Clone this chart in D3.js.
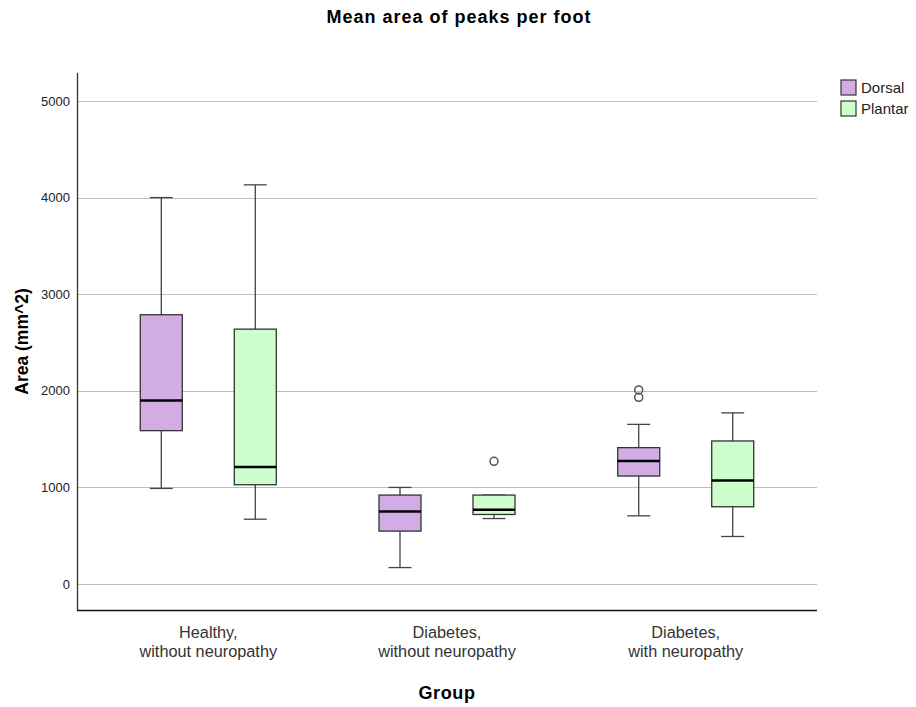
<html lang="en">
  <head>
    <meta charset="utf-8">
    <title>Mean area of peaks per foot</title>
    <script src="https://d3js.org/d3.v7.min.js"></script>
    <style>
      body { margin: 0; background: #fff; }
      text { font-family: "Liberation Sans", Arial, sans-serif; }
    </style>
  </head>
  <body>
    <script type="text/javascript">
      var w = 916;
      var h = 707;
      var margin = {top: 73, right: 99, bottom: 97, left: 77};
      var innerWidth = w - margin.left - margin.right;
      var innerHeight = h - margin.top - margin.bottom;

      // data
      var groups = ["Healthy,\nwithout neuropathy", "Diabetes,\nwithout neuropathy", "Diabetes,\nwith neuropathy"];
      var series = ["Dorsal", "Plantar"];
      var colors = ["#d2ace4", "#ccffcc"];
      var yTicks = [0, 1000, 2000, 3000, 4000, 5000];
      // [whiskerLow, q1, median, q3, whiskerHigh]
      var dorsal = [[989, 1587, 1898, 2787, 4000],
                    [169, 547, 750, 920, 999],
                    [705, 1117, 1273, 1411, 1652]];
      var plantar = [[670, 1027, 1210, 2638, 4132],
                     [677, 719, 768, 920, 920],
                     [491, 799, 1072, 1480, 1771]];
      var dorsalOutliers = [[], [], [2009, 1932]];
      var plantarOutliers = [[], [1269], []];

      var boxes = [];
      groups.forEach(function(g, i) {
        boxes.push({group: g, s: 0, v: dorsal[i], out: dorsalOutliers[i]});
        boxes.push({group: g, s: 1, v: plantar[i], out: plantarOutliers[i]});
      });

      var xScale = d3.scalePoint()
          .domain(groups)
          .range([0, innerWidth])
          .padding(0.55);
      var sub = d3.scalePoint().domain([0, 1]).range([-47, 47]);
      var yScale = d3.scaleLinear()
          .domain([-270, 5290])
          .range([innerHeight, 0]);

      var boxW = 42;
      var capW = 23;

      var svg = d3.select("body")
          .append("svg")
          .attr("width", w)
          .attr("height", h);

      svg.append("text")
          .attr("x", 459)
          .attr("y", 23)
          .attr("text-anchor", "middle")
          .style("font-size", "18px")
          .style("letter-spacing", "1px")
          .style("font-weight", "bold")
          .text("Mean area of peaks per foot");

      var g = svg.append("g")
          .attr("transform", "translate(" + margin.left + "," + margin.top + ")");

      // grid
      g.selectAll(".grid")
          .data(yTicks)
          .enter()
          .append("line")
          .attr("x1", 0)
          .attr("x2", innerWidth)
          .attr("y1", d => Math.round(yScale(d)) + 0.5)
          .attr("y2", d => Math.round(yScale(d)) + 0.5)
          .style("stroke", "#bdbdbd")
          .attr("stroke-width", 1);

      var yAxis = d3.axisLeft(yScale)
          .tickValues(yTicks)
          .tickFormat(d3.format("d"))
          .tickSize(0)
          .tickPadding(7);
      var ya = g.append("g").call(yAxis);
      ya.select(".domain").remove();
      ya.selectAll("text")
          .style("font-size", "13px")
          .style("fill", "#222");

      // boxes
      var b = g.selectAll(".box")
          .data(boxes)
          .enter()
          .append("g")
          .attr("transform", d => "translate(" + (xScale(d.group) + sub(d.s)) + ",0)");

      b.append("line")
          .attr("x1", 0).attr("x2", 0)
          .attr("y1", d => yScale(d.v[0]))
          .attr("y2", d => yScale(d.v[4]))
          .style("stroke", "#444").attr("stroke-width", 1.3);
      b.append("line")
          .attr("x1", -capW / 2).attr("x2", capW / 2)
          .attr("y1", d => yScale(d.v[0])).attr("y2", d => yScale(d.v[0]))
          .style("stroke", "#444").attr("stroke-width", 1.3);
      b.append("line")
          .attr("x1", -capW / 2).attr("x2", capW / 2)
          .attr("y1", d => yScale(d.v[4])).attr("y2", d => yScale(d.v[4]))
          .style("stroke", "#444").attr("stroke-width", 1.3);
      b.append("rect")
          .attr("x", -boxW / 2)
          .attr("width", boxW)
          .attr("y", d => yScale(d.v[3]))
          .attr("height", d => yScale(d.v[1]) - yScale(d.v[3]))
          .attr("fill", d => colors[d.s])
          .style("stroke", "#333").attr("stroke-width", 1.3);
      b.append("line")
          .attr("x1", -boxW / 2).attr("x2", boxW / 2)
          .attr("y1", d => yScale(d.v[2])).attr("y2", d => yScale(d.v[2]))
          .style("stroke", "#000").attr("stroke-width", 2.5);
      b.selectAll(".out")
          .data(d => d.out)
          .enter()
          .append("circle")
          .attr("cx", 0)
          .attr("cy", d => yScale(d))
          .attr("r", 4)
          .attr("fill", "none")
          .style("stroke", "#555").attr("stroke-width", 1.5);

      // axis lines
      g.append("line")
          .attr("x1", 0.5).attr("x2", 0.5)
          .attr("y1", 0).attr("y2", innerHeight)
          .style("stroke", "#333").attr("stroke-width", 1.3);
      g.append("line")
          .attr("x1", 0).attr("x2", innerWidth)
          .attr("y1", innerHeight + 0.5).attr("y2", innerHeight + 0.5)
          .style("stroke", "#111").attr("stroke-width", 1.3);

      // category labels
      var cl = g.selectAll(".cat")
          .data(groups)
          .enter()
          .append("text")
          .attr("text-anchor", "middle")
          .attr("transform", d => "translate(" + xScale(d) + "," + (innerHeight + 28) + ")")
          .style("font-size", "16.3px")
          .style("fill", "#333");
      cl.selectAll("tspan")
          .data(d => d.split("\n"))
          .enter()
          .append("tspan")
          .attr("x", 0)
          .attr("dy", (d, i) => i ? 19 : 0)
          .text(d => d);

      svg.append("text")
          .attr("x", 447)
          .attr("y", 699)
          .attr("text-anchor", "middle")
          .style("font-size", "18px")
          .style("letter-spacing", "0.6px")
          .style("font-weight", "bold")
          .text("Group");

      svg.append("text")
          .attr("transform", "translate(28," + (margin.top + innerHeight / 2) + ") rotate(-90)")
          .attr("text-anchor", "middle")
          .style("font-size", "17.5px")
          .style("font-weight", "bold")
          .text("Area (mm^2)");

      // legend
      var lg = svg.selectAll(".leg")
          .data(series)
          .enter()
          .append("g")
          .attr("transform", (d, i) => "translate(841," + (80 + i * 21) + ")");
      lg.append("rect")
          .attr("width", 15).attr("height", 15)
          .attr("fill", (d, i) => colors[i])
          .style("stroke", "#333").attr("stroke-width", 1.2);
      lg.append("text")
          .attr("x", 20)
          .attr("y", 13)
          .style("font-size", "15px")
          .style("fill", "#222")
          .text(d => d);
    </script>
  </body>
</html>
